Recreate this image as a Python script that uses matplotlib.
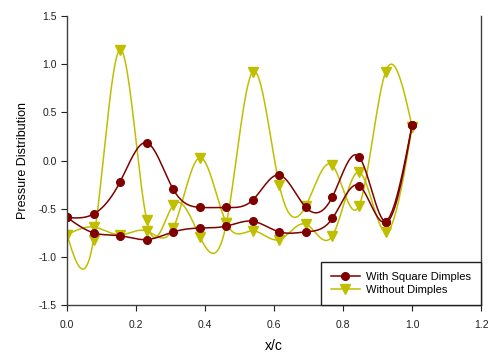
import matplotlib
matplotlib.use("Agg")
import matplotlib.pyplot as plt
import numpy as np

plt.rcParams['font.family'] = ['Liberation Sans', 'DejaVu Sans']

# chord positions (same for every surface)
x_pts = [0.0, 0.077, 0.154, 0.231, 0.308, 0.385, 0.462, 0.538,
         0.615, 0.692, 0.769, 0.846, 0.923, 1.0]

# with square dimples, two surfaces
dimple_a = [-0.59, -0.555, -0.22, 0.185, -0.30, -0.486, -0.486, -0.41,
            -0.15, -0.486, -0.376, 0.04, -0.635, 0.37]
dimple_b = [-0.59, -0.75, -0.78, -0.82, -0.74, -0.70, -0.68, -0.63,
            -0.74, -0.74, -0.60, -0.26, -0.635, 0.37]

# without dimples, two surfaces
plain_a = [-0.77, -0.82, 1.15, -0.62, -0.46, -0.79, -0.65, 0.92,
           -0.25, -0.47, -0.05, -0.47, 0.92, 0.35]
plain_b = [-0.77, -0.69, -0.77, -0.73, -0.70, 0.03, -0.65, -0.73,
           -0.82, -0.66, -0.78, -0.12, -0.74, 0.35]

red = '#800000'
yel = '#BFBF00'


def spline(x, y, n=400):
    # natural cubic spline through the points
    x = np.asarray(x, float)
    y = np.asarray(y, float)
    k = len(x)
    h = np.diff(x)
    A = np.zeros((k, k))
    r = np.zeros(k)
    A[0, 0] = A[-1, -1] = 1
    for i in range(1, k - 1):
        A[i, i - 1] = h[i - 1]
        A[i, i] = 2 * (h[i - 1] + h[i])
        A[i, i + 1] = h[i]
        r[i] = 6 * ((y[i + 1] - y[i]) / h[i] - (y[i] - y[i - 1]) / h[i - 1])
    m = np.linalg.solve(A, r)
    xs = np.linspace(x[0], x[-1], n)
    j = np.clip(np.searchsorted(x, xs) - 1, 0, k - 2)
    t0 = x[j + 1] - xs
    t1 = xs - x[j]
    hj = h[j]
    ys = (m[j] * t0 ** 3 + m[j + 1] * t1 ** 3) / (6 * hj) \
        + (y[j] / hj - m[j] * hj / 6) * t0 + (y[j + 1] / hj - m[j + 1] * hj / 6) * t1
    return xs, ys


fig = plt.figure(figsize=(4.89, 3.54), dpi=100)
ax = fig.add_axes([0.137, 0.138, 0.847, 0.817])

for ys in (plain_a, plain_b):
    sx, sy = spline(x_pts, ys)
    ax.plot(sx, sy, color=yel, lw=1.1)
    ax.plot(x_pts, ys, 'v', color=yel, ms=6.5, mec=yel)
for ys in (dimple_a, dimple_b):
    sx, sy = spline(x_pts, ys)
    ax.plot(sx, sy, color=red, lw=1.1)
    ax.plot(x_pts, ys, 'o', color=red, ms=5.5, mec=red)

# legend proxies
h1, = ax.plot([], [], '-o', color=red, ms=5.5, lw=1.1, label='With Square Dimples')
h2, = ax.plot([], [], '-v', color=yel, ms=6.5, lw=1.1, label='Without Dimples')
leg = ax.legend(handles=[h1, h2], loc='lower right', borderaxespad=0,
                fancybox=False, framealpha=1, fontsize=8, handlelength=2.6,
                handletextpad=0.6, borderpad=0.9, labelspacing=0.25)
leg.get_frame().set_edgecolor('#202020')
leg.get_frame().set_linewidth(1.0)

ax.set_xlim(0, 1.2)
ax.set_ylim(-1.5, 1.5)
ax.set_xticks(np.arange(0, 1.21, 0.2))
ax.set_yticks(np.arange(-1.5, 1.51, 0.5))
ax.xaxis.set_major_formatter(plt.FormatStrFormatter('%.1f'))
ax.yaxis.set_major_formatter(plt.FormatStrFormatter('%.1f'))
ax.tick_params(direction='out', length=4, width=0.8, labelsize=7.5, colors='#202020')
ax.tick_params(axis='x', pad=7)
ax.spines['top'].set_visible(False)
for s in ('left', 'bottom', 'right'):
    ax.spines[s].set_color('#404040')
    ax.spines[s].set_linewidth(1.0)

ax.set_xlabel('x/c', fontsize=10, labelpad=6)
ax.set_ylabel('Pressure Distribution', fontsize=9, labelpad=7)

fig.savefig('out.png', dpi=100)
